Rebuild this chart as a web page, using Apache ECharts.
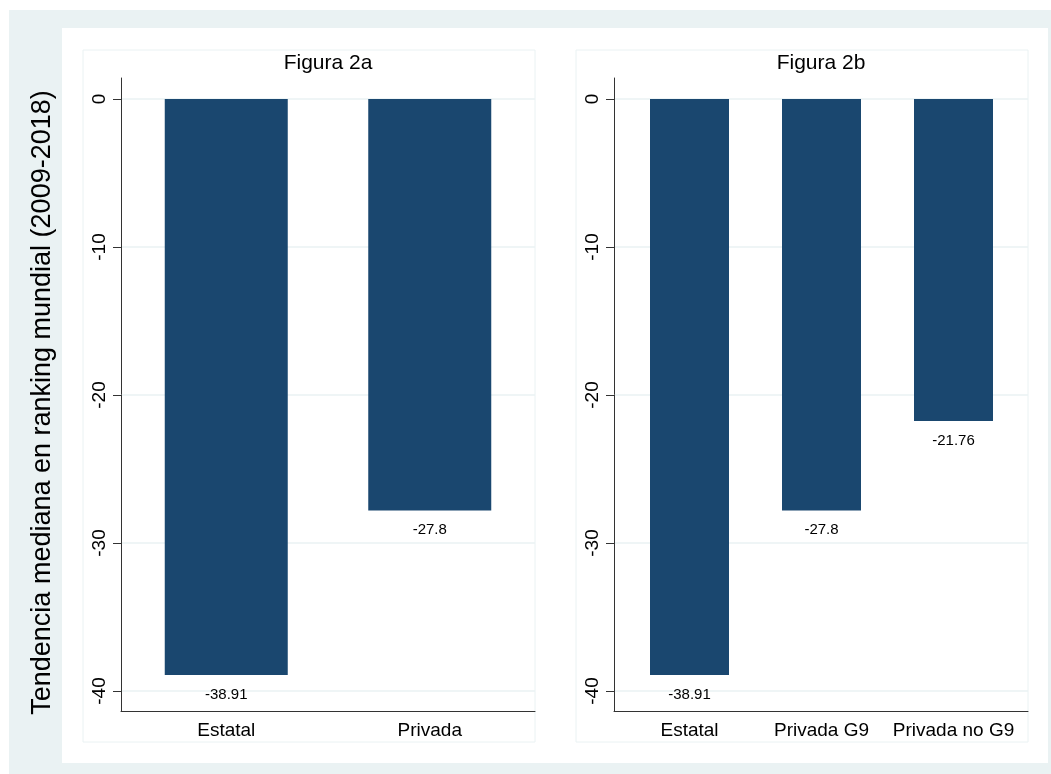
<!DOCTYPE html>
<html>
<head>
<meta charset="utf-8">
<script src="https://cdn.jsdelivr.net/npm/echarts@6/dist/echarts.min.js"></script>
<style>
  html, body { margin: 0; padding: 0; background: #ffffff; }
  #chart { width: 1051px; height: 774px; }
</style>
</head>
<body>
<div id="chart"></div>
<script>
// Panel 2a: public vs private universities
const catsA = ['Estatal', 'Privada'];
const valsA = [-38.91, -27.8];
// Panel 2b: private split by G9 membership
const catsB = ['Estatal', 'Privada G9', 'Privada no G9'];
const valsB = [-38.91, -27.8, -21.76];
// Y axis ticks and titles
const yTicks = [0, -10, -20, -30, -40];
const panelTitles = ['Figura 2a', 'Figura 2b'];
const yTitle = 'Tendencia mediana en ranking mundial (2009-2018)';

const Y_MIN = -41.35, Y_MAX = 1.42;
const BAR = '#1a476f';
const GRIDC = '#eaf2f3';
const FONT = 'Liberation Sans, Arial, sans-serif';

const chart = echarts.init(document.getElementById('chart'), null, { renderer: 'canvas' });

// frame grids (axis lines + gridlines) and bar grids per panel
const grids = [
  { left: 121, width: 414, top: 78, height: 633 },     // 0: frame a
  { left: 124.5, width: 407, top: 78, height: 633 },   // 1: bars a
  { left: 614, width: 414, top: 78, height: 633 },     // 2: frame b
  { left: 623.5, width: 396, top: 78, height: 633 }    // 3: bars b
];

function frameY(gi) {
  return {
    type: 'value', gridIndex: gi, min: Y_MIN, max: Y_MAX,
    axisLine: { show: true, lineStyle: { color: '#333', width: 1 } },
    axisTick: { show: true, length: 8, customValues: yTicks, lineStyle: { color: '#333' } },
    axisLabel: { customValues: yTicks, rotate: 90, margin: 12, fontSize: 19, color: '#000', fontFamily: FONT },
    splitLine: { show: true, lineStyle: { color: GRIDC, width: 1.5 } }
  };
}
function barY(gi) {
  return { type: 'value', gridIndex: gi, min: Y_MIN, max: Y_MAX, show: false, splitLine: { show: false } };
}
function frameX(gi) {
  return {
    type: 'value', gridIndex: gi, min: 0, max: 1,
    axisLine: { show: true, onZero: false, lineStyle: { color: '#333', width: 1 } },
    axisTick: { show: false }, axisLabel: { show: false }, splitLine: { show: false }
  };
}
function barX(gi, cats) {
  return {
    type: 'category', gridIndex: gi, data: cats, boundaryGap: true,
    axisLine: { show: false }, axisTick: { show: false },
    axisLabel: { margin: 10, fontSize: 19, color: '#000', fontFamily: FONT, interval: 0 }
  };
}
function barSeries(ai, vals, width) {
  return {
    type: 'bar', xAxisIndex: ai, yAxisIndex: ai, data: vals, barWidth: width,
    itemStyle: { color: BAR },
    label: {
      show: true, position: 'bottom', distance: 12, fontSize: 15, color: '#000', fontFamily: FONT,
      formatter: p => String(p.value)
    },
    silent: true
  };
}

chart.setOption({
  animation: false,
  backgroundColor: '#ffffff',
  graphic: [
    { type: 'rect', z: -10, shape: { x: 9, y: 10, width: 1042, height: 764 }, style: { fill: '#eaf2f3' } },
    { type: 'rect', z: -9, shape: { x: 62, y: 28, width: 986, height: 735 }, style: { fill: '#ffffff' } },
    { type: 'rect', z: -8, shape: { x: 83, y: 50, width: 452, height: 692 }, style: { fill: 'none', stroke: '#eaf2f3', lineWidth: 1 } },
    { type: 'rect', z: -8, shape: { x: 576, y: 50, width: 452, height: 692 }, style: { fill: 'none', stroke: '#eaf2f3', lineWidth: 1 } },
    { type: 'text', x: 42.5, y: 402.5, rotation: Math.PI / 2,
      style: { text: yTitle, fontSize: 27, fill: '#000', fontFamily: FONT, textAlign: 'center', textVerticalAlign: 'middle' } }
  ],
  title: [
    { text: panelTitles[0], left: 328, top: 53, textAlign: 'center', padding: 0,
      textStyle: { fontSize: 21, fontWeight: 'normal', color: '#000', fontFamily: FONT } },
    { text: panelTitles[1], left: 821, top: 53, textAlign: 'center', padding: 0,
      textStyle: { fontSize: 21, fontWeight: 'normal', color: '#000', fontFamily: FONT } }
  ],
  grid: grids,
  xAxis: [frameX(0), barX(1, catsA), frameX(2), barX(3, catsB)],
  yAxis: [frameY(0), barY(1), frameY(2), barY(3)],
  series: [
    barSeries(1, valsA, 123),
    barSeries(3, valsB, 79)
  ]
});
</script>
</body>
</html>
